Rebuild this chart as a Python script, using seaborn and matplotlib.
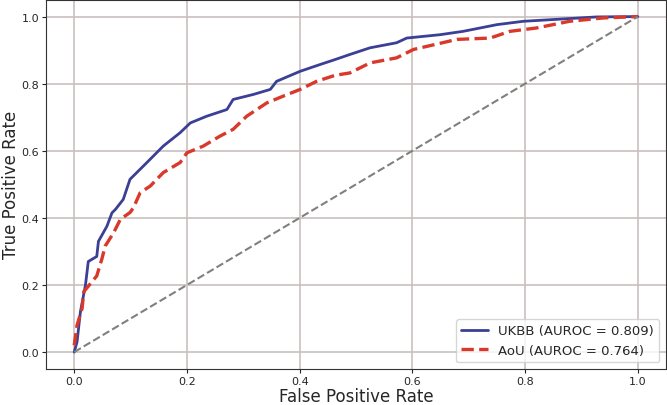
import numpy as np
import pandas as pd
import matplotlib
matplotlib.use('Agg')
import matplotlib.pyplot as plt
import seaborn as sns

# ROC points
ukbb_fpr = [0.0, 0.005, 0.011, 0.02, 0.025, 0.04, 0.043, 0.058, 0.067, 0.073, 0.087, 0.099, 0.111,
            0.129, 0.158, 0.188, 0.206, 0.235, 0.271, 0.282, 0.318, 0.348, 0.359, 0.401, 0.436,
            0.463, 0.489, 0.525, 0.572, 0.590, 0.649, 0.690, 0.750, 0.797, 0.868, 0.927, 1.0]
ukbb_tpr = [0.0, 0.03, 0.12, 0.20, 0.27, 0.285, 0.33, 0.375, 0.415, 0.425, 0.455, 0.515, 0.535,
            0.565, 0.614, 0.654, 0.683, 0.703, 0.723, 0.753, 0.768, 0.783, 0.807, 0.837, 0.857,
            0.872, 0.887, 0.907, 0.922, 0.936, 0.946, 0.956, 0.976, 0.986, 0.993, 0.999, 1.0]

aou_fpr = [0.0, 0.005, 0.014, 0.017, 0.04, 0.049, 0.055, 0.07, 0.082, 0.099, 0.105, 0.117, 0.135,
           0.158, 0.188, 0.2, 0.229, 0.259, 0.282, 0.306, 0.342, 0.371, 0.401, 0.43, 0.463,
           0.489, 0.525, 0.572, 0.602, 0.679, 0.738, 0.773, 0.82, 0.879, 0.939, 1.0]
aou_tpr = [0.02, 0.08, 0.13, 0.18, 0.227, 0.277, 0.316, 0.356, 0.396, 0.416, 0.43, 0.475, 0.495,
           0.535, 0.565, 0.594, 0.614, 0.644, 0.664, 0.703, 0.743, 0.763, 0.783, 0.807, 0.825,
           0.832, 0.862, 0.877, 0.902, 0.932, 0.936, 0.956, 0.966, 0.986, 0.996, 1.0]

labels = ['UKBB (AUROC = 0.809)', 'AoU (AUROC = 0.764)']

sns.set_style('ticks')
plt.rcParams['font.family'] = ['DejaVu Sans']

fig, ax = plt.subplots(figsize=(6.67, 4.06), dpi=100)
fig.subplots_adjust(left=0.069, right=0.9985, top=0.998, bottom=0.089)

df_u = pd.DataFrame({'fpr': ukbb_fpr, 'tpr': ukbb_tpr})
df_a = pd.DataFrame({'fpr': aou_fpr, 'tpr': aou_tpr})

sns.lineplot(data=df_u, x='fpr', y='tpr', ax=ax, color='#3b3f95', lw=2,
             label=labels[0], estimator=None, sort=False)
sns.lineplot(data=df_a, x='fpr', y='tpr', ax=ax, color='#d9392b', lw=2.4, ls='--',
             label=labels[1], estimator=None, sort=False)
ax.plot([0, 1], [0, 1], color='gray', ls='--', lw=1.5)

ax.set_xlim(-0.05, 1.05)
ax.set_ylim(-0.05, 1.05)
ax.set_xticks([0, 0.2, 0.4, 0.6, 0.8, 1.0])
ax.set_yticks([0, 0.2, 0.4, 0.6, 0.8, 1.0])
ax.tick_params(labelsize=8, length=3, pad=2)
ax.set_xlabel('False Positive Rate', fontsize=12, labelpad=1)
ax.set_ylabel('True Positive Rate', fontsize=12, labelpad=1)
ax.grid(True, color='#c9bfbf', lw=1.2)
ax.set_axisbelow(True)
for s in ax.spines.values():
    s.set_color('#333333')
ax.legend(loc='lower right', fontsize=9.5, frameon=True)

fig.savefig('out.png', dpi=100)
